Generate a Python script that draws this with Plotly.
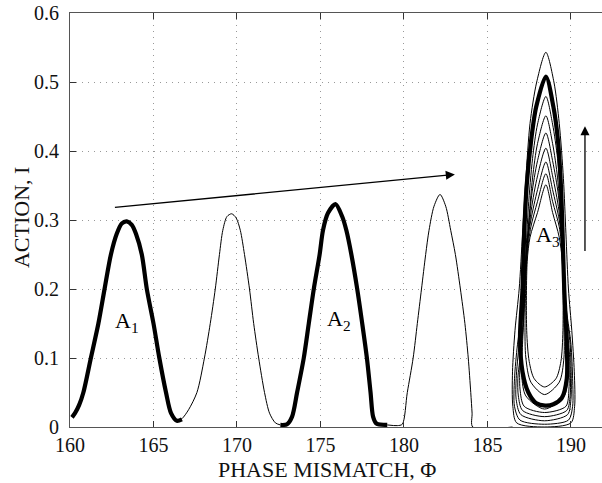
import plotly.graph_objects as go

# ---------------- data ----------------
# A1 (thick)
a1_x = [160.12, 160.3, 160.55, 160.8, 161.25, 161.7, 162.07, 162.45, 162.8, 163.1, 163.4, 163.7, 163.95, 164.3, 164.6, 165.0, 165.35, 165.75, 166.05, 166.4, 166.7]
a1_y = [0.014, 0.02, 0.032, 0.05, 0.10, 0.15, 0.20, 0.25, 0.28, 0.295, 0.298, 0.293, 0.28, 0.25, 0.20, 0.15, 0.10, 0.05, 0.02, 0.009, 0.011]
# hump between A1 and A2 (thin)
h2_x = [166.4, 166.7, 167.1, 167.6, 168.05, 168.4, 168.7, 168.95, 169.15, 169.4, 169.68, 169.95, 170.2, 170.45, 170.75, 171.0, 171.3, 171.65, 171.95, 172.3, 172.6]
h2_y = [0.009, 0.012, 0.025, 0.05, 0.10, 0.15, 0.20, 0.25, 0.285, 0.305, 0.309, 0.303, 0.285, 0.25, 0.20, 0.15, 0.10, 0.05, 0.02, 0.006, 0.003]
# A2 (thick)
a2_x = [172.6, 173.0, 173.3, 173.6, 174.0, 174.3, 174.6, 174.95, 175.15, 175.45, 175.9, 176.3, 176.55, 176.85, 177.2, 177.5, 177.78, 178.0, 178.15, 178.35, 179.0]
a2_y = [0.003, 0.004, 0.015, 0.05, 0.10, 0.15, 0.20, 0.25, 0.285, 0.31, 0.323, 0.305, 0.285, 0.25, 0.20, 0.15, 0.10, 0.05, 0.015, 0.005, 0.003]
# hump after A2 (thin)
h4_x = [179.0, 179.6, 179.9, 180.2, 180.55, 180.8, 181.05, 181.3, 181.5, 181.8, 182.16, 182.5, 182.8, 183.08, 183.38, 183.65, 183.85, 184.0, 184.08, 184.12, 186.5]
h4_y = [0.003, 0.002, 0.004, 0.05, 0.10, 0.15, 0.20, 0.25, 0.285, 0.32, 0.337, 0.32, 0.285, 0.25, 0.20, 0.15, 0.10, 0.05, 0.02, 0.0, 0.0]

# A3 closed orbits
outer_x = [188.5, 188.98, 189.3, 189.55, 189.7, 189.85, 190.05, 190.2, 190.22, 190.0, 188.4, 186.75, 186.52, 186.5, 186.65, 186.9, 187.1, 187.3, 187.55, 187.95, 188.5]
outer_y = [0.543, 0.50, 0.44, 0.36, 0.28, 0.20, 0.14, 0.08, 0.03, 0.006, 0.0, 0.006, 0.03, 0.08, 0.14, 0.20, 0.28, 0.36, 0.44, 0.50, 0.543]

thick_x = [188.5, 188.95, 189.22, 189.4, 189.5, 189.6, 189.75, 189.75, 189.45, 188.95, 188.45, 187.9, 187.45, 187.1, 186.95, 187.1, 187.2, 187.35, 187.62, 187.92, 188.5]
thick_y = [0.508, 0.464, 0.416, 0.35, 0.28, 0.20, 0.12, 0.07, 0.042, 0.033, 0.031, 0.035, 0.05, 0.08, 0.13, 0.20, 0.28, 0.35, 0.416, 0.464, 0.508]

l1_x = [188.5, 188.9, 189.2, 189.42, 189.52, 189.68, 190.0, 190.1, 190.1, 189.85, 188.42, 186.95, 186.62, 186.62, 186.8, 187.15, 187.3, 187.45, 187.7, 188.0, 188.5]
l1_y = [0.479, 0.439, 0.389, 0.319, 0.25, 0.18, 0.12, 0.07, 0.03, 0.01, 0.004, 0.01, 0.03, 0.07, 0.12, 0.18, 0.25, 0.319, 0.389, 0.439, 0.479]

l2_x = [188.5, 188.9, 189.2, 189.42, 189.55, 189.7, 189.95, 190.02, 190.0, 189.8, 188.42, 187.0, 186.72, 186.72, 186.9, 187.15, 187.25, 187.45, 187.7, 188.0, 188.5]
l2_y = [0.451, 0.411, 0.361, 0.291, 0.23, 0.17, 0.12, 0.07, 0.04, 0.018, 0.009, 0.018, 0.04, 0.07, 0.12, 0.17, 0.23, 0.291, 0.361, 0.411, 0.451]

l3_x = [188.5, 188.9, 189.25, 189.48, 189.58, 189.7, 189.9, 189.97, 189.95, 189.75, 188.42, 187.1, 186.85, 186.82, 187.0, 187.15, 187.25, 187.4, 187.65, 188.0, 188.5]
l3_y = [0.426, 0.386, 0.336, 0.27, 0.21, 0.16, 0.11, 0.07, 0.045, 0.024, 0.015, 0.024, 0.045, 0.07, 0.11, 0.16, 0.21, 0.27, 0.336, 0.386, 0.426]

l4_x = [188.5, 188.9, 189.28, 189.5, 189.6, 189.75, 189.88, 189.88, 189.7, 188.42, 187.2, 186.95, 186.95, 187.12, 187.22, 187.35, 187.62, 188.0, 188.5]
l4_y = [0.404, 0.364, 0.314, 0.25, 0.19, 0.14, 0.09, 0.055, 0.03, 0.021, 0.03, 0.055, 0.09, 0.14, 0.19, 0.25, 0.314, 0.364, 0.404]

l5_x = [188.5, 188.9, 189.3, 189.5, 189.62, 189.75, 189.8, 189.6, 188.42, 187.3, 187.05, 187.1, 187.2, 187.35, 187.6, 188.0, 188.5]
l5_y = [0.384, 0.344, 0.30, 0.26, 0.17, 0.12, 0.075, 0.045, 0.026, 0.045, 0.075, 0.12, 0.17, 0.26, 0.30, 0.344, 0.384]

l6_x = [188.5, 188.9, 189.3, 189.48, 189.58, 189.58, 189.3, 188.42, 187.6, 187.3, 187.25, 187.38, 187.6, 188.0, 188.5]
l6_y = [0.367, 0.327, 0.29, 0.25, 0.15, 0.10, 0.065, 0.047, 0.065, 0.10, 0.15, 0.25, 0.29, 0.327, 0.367]

l7_x = [188.5, 188.9, 189.3, 189.48, 189.52, 189.4, 189.1, 188.42, 187.8, 187.5, 187.35, 187.38, 187.55, 188.0, 188.5]
l7_y = [0.351, 0.311, 0.275, 0.24, 0.14, 0.095, 0.07, 0.058, 0.07, 0.095, 0.14, 0.24, 0.275, 0.311, 0.351]

# ticks
x_ticks = [160, 165, 170, 175, 180, 185, 190]
y_ticks = [0, 0.1, 0.2, 0.3, 0.4, 0.5, 0.6]
y_tick_text = ["0", "0.1", "0.2", "0.3", "0.4", "0.5", "0.6"]

# labels / arrows
labels = [("A<sub>1</sub>", 163.4, 0.152), ("A<sub>2</sub>", 176.1, 0.155), ("A<sub>3</sub>", 188.65, 0.277)]
arrow1 = (162.6, 0.318, 183.05, 0.366)
arrow2 = (190.84, 0.253, 190.84, 0.436)

# ---------------- figure ----------------
SERIF = "Liberation Serif, Times New Roman, serif"
THICK = 4.2
THIN = 1.0

fig = go.Figure()

def add(x, y, w):
    fig.add_trace(go.Scatter(x=x, y=y, mode="lines",
                             line=dict(color="black", width=w, shape="spline", smoothing=0.8),
                             hoverinfo="skip"))

add(h2_x, h2_y, THIN)
add(h4_x, h4_y, THIN)
add(a1_x, a1_y, THICK)
add(a2_x, a2_y, THICK)
for lx, ly in [(outer_x, outer_y), (l1_x, l1_y), (l2_x, l2_y), (l3_x, l3_y),
               (l4_x, l4_y), (l5_x, l5_y), (l6_x, l6_y), (l7_x, l7_y)]:
    add(lx, ly, THIN)
add(thick_x, thick_y, THICK)

ann = []
for txt, lx, ly in labels:
    ann.append(dict(x=lx, y=ly, xref="x", yref="y", text=txt, showarrow=False,
                    font=dict(family=SERIF, size=22, color="black"),
                    xanchor="center", yanchor="middle"))
for (x0, y0, x1, y1) in (arrow1, arrow2):
    ann.append(dict(x=x1, y=y1, ax=x0, ay=y0, xref="x", yref="y", axref="x", ayref="y",
                    text="", showarrow=True, arrowhead=2, arrowsize=1.4, arrowwidth=1.3,
                    arrowcolor="black"))
ann.append(dict(x=0.483, y=-0.103, xref="paper", yref="paper", text="PHASE MISMATCH, Φ",
                showarrow=False, font=dict(family=SERIF, size=22, color="#111"),
                xanchor="center", yanchor="middle"))
ann.append(dict(x=-0.09, y=0.505, xref="paper", yref="paper", text="ACTION, I",
                showarrow=False, textangle=-90, font=dict(family=SERIF, size=22, color="#111"),
                xanchor="center", yanchor="middle"))

fig.update_layout(
    width=602, height=483,
    margin=dict(l=70, r=0, t=13, b=56),
    paper_bgcolor="white", plot_bgcolor="white",
    showlegend=False,
    annotations=ann,
)
fig.update_xaxes(range=[160, 191.86], tickvals=x_ticks, ticks="inside", ticklen=6,
                 tickcolor="#333", showline=True, linecolor="#555", linewidth=1,
                 mirror="ticks", showgrid=True, gridcolor="#999", griddash="1px,5px",
                 gridwidth=1, zeroline=False, ticklabelstandoff=0,
                 tickfont=dict(family=SERIF, size=20, color="#111"))
fig.update_yaxes(range=[0, 0.6], tickvals=y_ticks, ticktext=y_tick_text, ticks="inside",
                 ticklen=6, tickcolor="#333", showline=True, linecolor="#555", linewidth=1,
                 showgrid=True, gridcolor="#999", griddash="1px,5px", gridwidth=1,
                 zeroline=False, ticklabelstandoff=6,
                 tickfont=dict(family=SERIF, size=20, color="#111"))

fig.write_html("out.html")
